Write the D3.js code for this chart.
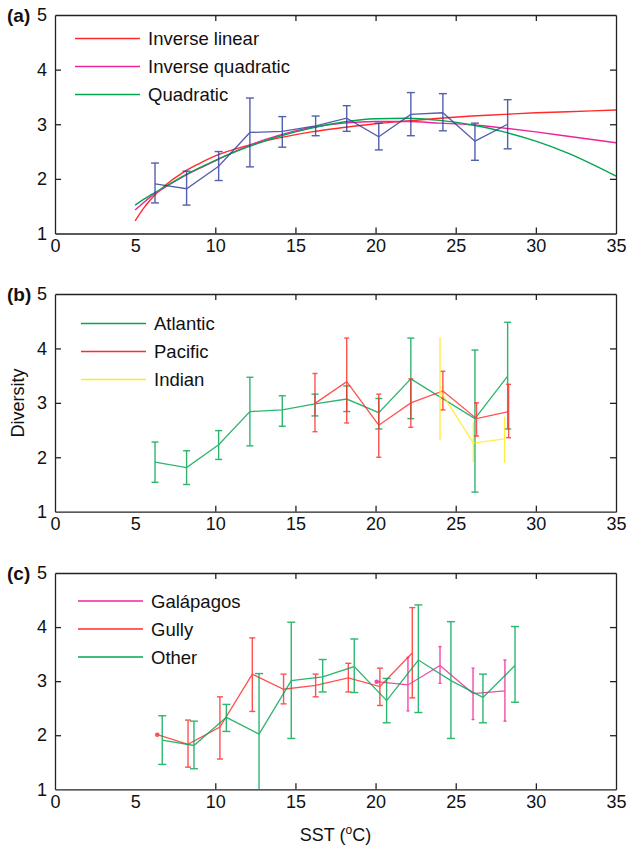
<!DOCTYPE html>
<html>
<head>
<meta charset="utf-8">
<script src="https://cdn.jsdelivr.net/npm/d3@7"></script>
<style>
  body { margin: 0; background: #fff; }
  svg { font-family: "Liberation Sans", Arial, Helvetica, sans-serif; }
  .axis text { font-size: 18px; fill: #111; }
  .axis path, .axis line { stroke: #222; stroke-width: 1.3; }
  .series { opacity: 0.82; }
</style>
</head>
<body>
<div id="chart"></div>
<script>
// axis ticks
const xTicks = [0, 5, 10, 15, 20, 25, 30, 35];
const yTicks = [1, 2, 3, 4, 5];

// (a) all sites, mean diversity by SST bin
const allSst  = [6.24, 8.21, 10.21, 12.16, 14.18, 16.26, 18.2, 20.2, 22.2, 24.2, 26.2, 28.24];
const allMean = [1.91, 1.82, 2.23, 2.85, 2.87, 2.97, 3.11, 2.77, 3.18, 3.21, 2.69, 3.0];
const allLow  = [1.56, 1.52, 1.97, 2.22, 2.58, 2.79, 2.87, 2.53, 2.79, 2.88, 2.34, 2.55];
const allHigh = [2.29, 2.14, 2.5, 3.48, 3.14, 3.15, 3.34, 3.02, 3.58, 3.56, 3.02, 3.45];

// (a) fitted models
const fitSst     = [5, 5.5, 6, 7, 8, 9, 10, 12, 14, 16, 18, 20, 22, 24, 26, 28, 30, 32, 35];
const invLinear  = [1.23, 1.45, 1.63, 1.91, 2.12, 2.28, 2.42, 2.61, 2.75, 2.86, 2.94, 3.01, 3.06, 3.11, 3.15, 3.18, 3.21, 3.23, 3.26];
const invQuad    = [1.43, 1.56, 1.68, 1.87, 2.04, 2.19, 2.33, 2.6, 2.8, 2.94, 3.02, 3.05, 3.05, 3.02, 2.99, 2.93, 2.86, 2.78, 2.66];
const quadratic  = [1.52, 1.62, 1.71, 1.88, 2.05, 2.2, 2.34, 2.58, 2.78, 2.93, 3.04, 3.1, 3.11, 3.07, 2.99, 2.86, 2.69, 2.47, 2.05];

// (b) ocean basins
const atlSst  = [6.24, 8.21, 10.21, 12.16, 14.18, 16.22, 18.2, 20.2, 22.2, 26.2, 28.24];
const atlMean = [1.91, 1.81, 2.23, 2.84, 2.87, 2.98, 3.07, 2.82, 3.44, 2.71, 3.49];
const atlLow  = [1.54, 1.5, 1.96, 2.21, 2.57, 2.76, 2.84, 2.52, 2.71, 1.36, 2.52];
const atlHigh = [2.28, 2.12, 2.49, 3.47, 3.13, 3.16, 3.31, 3.08, 4.19, 3.97, 4.48];

const pacSst  = [16.22, 18.2, 20.2, 22.2, 24.2, 26.3, 28.3];
const pacMean = [2.99, 3.39, 2.59, 3.0, 3.22, 2.71, 2.84];
const pacLow  = [2.47, 2.63, 2.0, 2.55, 2.87, 2.39, 2.36];
const pacHigh = [3.54, 4.19, 3.16, 3.44, 3.58, 3.0, 3.34];

const indSst  = [24.02, 26.1, 28.05];
const indMean = [3.23, 2.26, 2.34];
const indLow  = [2.32, 1.92, 1.91];
const indHigh = [4.19, 2.63, 2.73];

// (c) site types
const galSst  = [20.07, 22.02, 24.02, 26.08, 28.07];
const galMean = [2.99, 2.93, 3.29, 2.77, 2.82];
const galLow  = [2.99, 2.45, 2.96, 2.29, 2.26];
const galHigh = [2.99, 3.44, 3.64, 3.24, 3.39];

const gulSst  = [6.38, 8.3, 10.29, 12.31, 14.26, 16.26, 18.3, 20.27, 22.29];
const gulMean = [2.01, 1.83, 2.15, 3.13, 2.85, 2.92, 3.06, 2.9, 3.52];
const gulLow  = [2.01, 1.41, 1.56, 2.44, 2.58, 2.71, 2.8, 2.55, 2.69];
const gulHigh = [2.01, 2.28, 2.71, 3.8, 3.13, 3.13, 3.33, 3.24, 4.36];

const othSst  = [6.69, 8.67, 10.69, 12.73, 14.74, 16.7, 18.67, 20.69, 22.67, 24.7, 26.7, 28.7];
const othMean = [1.91, 1.81, 2.33, 2.02, 3.01, 3.08, 3.27, 2.64, 3.39, 3.01, 2.7, 3.29];
const othLow  = [1.46, 1.38, 2.07, 0.9, 1.94, 2.8, 2.79, 2.23, 2.42, 1.94, 2.23, 2.61];
const othHigh = [2.36, 2.26, 2.57, 3.14, 4.09, 3.4, 3.78, 3.05, 4.41, 4.1, 3.13, 4.01];

// colours
const RED = "#ff2b2b", MAGENTA = "#f0249a", GREEN = "#00a651", BLUE = "#2f3c9c", YELLOW = "#ffec1a";

const width = 628, height = 847;
const left = 55, plotW = 561;

const svg = d3.select("#chart").append("svg")
    .attr("width", width)
    .attr("height", height);

function zipSeries(sst, mean, low, high) {
    return sst.map((s, i) => ({sst: s, mean: mean[i], low: low ? low[i] : null, high: high ? high[i] : null}));
}

function drawPanel(cfg) {
    let g = svg.append("g").attr("transform", `translate(${left}, ${cfg.top})`);

    let x = d3.scaleLinear().domain([0, 35]).range([0, plotW]);
    let y = d3.scaleLinear().domain([1, 5]).range([cfg.h, 0]);

    // clip
    g.append("defs").append("clipPath")
        .attr("id", "clip-" + cfg.id)
        .append("rect")
        .attr("width", plotW)
        .attr("height", cfg.h);

    let plot = g.append("g").attr("clip-path", `url(#clip-${cfg.id})`);

    // fitted curves (panel a only)
    (cfg.curves || []).forEach(c => {
        plot.append("path")
            .datum(zipSeries(fitSst, c.values))
            .attr("fill", "none")
            .attr("stroke", c.color)
            .attr("stroke-width", 1.4)
            .attr("d", d3.line().x(d => x(d.sst)).y(d => y(d.mean)).curve(d3.curveMonotoneX));
    });

    // series with error bars
    cfg.series.forEach(s => {
        let data = zipSeries(s.sst, s.mean, s.low, s.high);
        let sg = plot.append("g").attr("class", "series");

        sg.append("path")
            .datum(data)
            .attr("fill", "none")
            .attr("stroke", s.color)
            .attr("stroke-width", 1.3)
            .attr("d", d3.line().x(d => x(d.sst)).y(d => y(d.mean)));

        let bars = sg.selectAll(".bar")
            .data(data.filter(d => d.high > d.low))
            .enter().append("g")
            .attr("class", "bar")
            .attr("stroke", s.color)
            .attr("stroke-width", 1.4);

        bars.append("line")
            .attr("x1", d => x(d.sst)).attr("x2", d => x(d.sst))
            .attr("y1", d => y(d.low)).attr("y2", d => y(d.high));
        bars.append("line")
            .attr("x1", d => x(d.sst) - s.cap).attr("x2", d => x(d.sst) + s.cap)
            .attr("y1", d => y(d.low)).attr("y2", d => y(d.low));
        bars.append("line")
            .attr("x1", d => x(d.sst) - s.cap).attr("x2", d => x(d.sst) + s.cap)
            .attr("y1", d => y(d.high)).attr("y2", d => y(d.high));

        // single samples: just a dot
        sg.selectAll(".dot")
            .data(data.filter(d => d.high === d.low))
            .enter().append("circle")
            .attr("class", "dot")
            .attr("cx", d => x(d.sst))
            .attr("cy", d => y(d.mean))
            .attr("r", 2.3)
            .attr("fill", s.color);
    });

    // axes, ticks inside on all four sides
    g.append("g").attr("class", "axis")
        .attr("transform", `translate(0, ${cfg.h})`)
        .call(d3.axisBottom(x).tickValues(xTicks).tickFormat(d3.format("d"))
            .tickSizeInner(-6).tickSizeOuter(0).tickPadding(6));
    g.append("g").attr("class", "axis")
        .call(d3.axisTop(x).tickValues(xTicks).tickSizeInner(-6).tickSizeOuter(0).tickFormat(""));
    g.append("g").attr("class", "axis")
        .call(d3.axisLeft(y).tickValues(yTicks).tickFormat(d3.format("d"))
            .tickSizeInner(-6).tickSizeOuter(0).tickPadding(8));
    g.append("g").attr("class", "axis")
        .attr("transform", `translate(${plotW}, 0)`)
        .call(d3.axisRight(y).tickValues(yTicks).tickSizeInner(-6).tickSizeOuter(0).tickFormat(""));

    // no tick marks on the frame corners
    g.selectAll(".axis .tick line").filter(d => d === 0 || d === 35 || d === 1 || d === 5).remove();

    // panel label
    svg.append("text")
        .attr("x", 7)
        .attr("y", cfg.top)
        .attr("dy", "0.35em")
        .attr("font-size", "19px")
        .attr("font-weight", "bold")
        .attr("fill", "#111")
        .text(cfg.label);

    // legend
    cfg.legend.forEach((l, i) => {
        let ly = cfg.legendY + i * 28;
        svg.append("line")
            .attr("x1", cfg.legendX).attr("x2", cfg.legendX + 65)
            .attr("y1", ly).attr("y2", ly)
            .attr("stroke", l.color)
            .attr("stroke-width", 1.4);
        svg.append("text")
            .attr("x", cfg.legendX + 73)
            .attr("y", ly)
            .attr("dy", "0.36em")
            .attr("font-size", "18.5px")
            .attr("fill", "#111")
            .text(l.name);
    });
}

drawPanel({
    id: "a", label: "(a)", top: 15, h: 218.5,
    curves: [
        {values: invLinear, color: RED},
        {values: invQuad, color: MAGENTA},
        {values: quadratic, color: GREEN}
    ],
    series: [
        {sst: allSst, mean: allMean, low: allLow, high: allHigh, color: BLUE, cap: 4}
    ],
    legendX: 75, legendY: 38.5,
    legend: [
        {name: "Inverse linear", color: RED},
        {name: "Inverse quadratic", color: MAGENTA},
        {name: "Quadratic", color: GREEN}
    ]
});

drawPanel({
    id: "b", label: "(b)", top: 294, h: 217.7,
    series: [
        {sst: atlSst, mean: atlMean, low: atlLow, high: atlHigh, color: GREEN, cap: 3.5},
        {sst: pacSst, mean: pacMean, low: pacLow, high: pacHigh, color: RED, cap: 2.5},
        {sst: indSst, mean: indMean, low: indLow, high: indHigh, color: YELLOW, cap: 0.5}
    ],
    legendX: 81, legendY: 323.5,
    legend: [
        {name: "Atlantic", color: GREEN},
        {name: "Pacific", color: RED},
        {name: "Indian", color: YELLOW}
    ]
});

drawPanel({
    id: "c", label: "(c)", top: 573, h: 216.3,
    series: [
        {sst: galSst, mean: galMean, low: galLow, high: galHigh, color: MAGENTA, cap: 1.5},
        {sst: gulSst, mean: gulMean, low: gulLow, high: gulHigh, color: RED, cap: 3},
        {sst: othSst, mean: othMean, low: othLow, high: othHigh, color: GREEN, cap: 4}
    ],
    legendX: 78, legendY: 601,
    legend: [
        {name: "Galápagos", color: MAGENTA},
        {name: "Gully", color: RED},
        {name: "Other", color: GREEN}
    ]
});

// axis titles
svg.append("text")
    .attr("transform", "translate(18, 403) rotate(-90)")
    .attr("text-anchor", "middle")
    .attr("dy", "0.35em")
    .attr("font-size", "18px")
    .attr("fill", "#111")
    .text("Diversity");

let xTitle = svg.append("text")
    .attr("x", left + plotW / 2)
    .attr("y", 841)
    .attr("text-anchor", "middle")
    .attr("font-size", "18px")
    .attr("fill", "#111");
xTitle.append("tspan").text("SST (");
xTitle.append("tspan").attr("font-size", "12px").attr("dy", "-7").text("o");
xTitle.append("tspan").attr("dy", "7").text("C)");
</script>
</body>
</html>
